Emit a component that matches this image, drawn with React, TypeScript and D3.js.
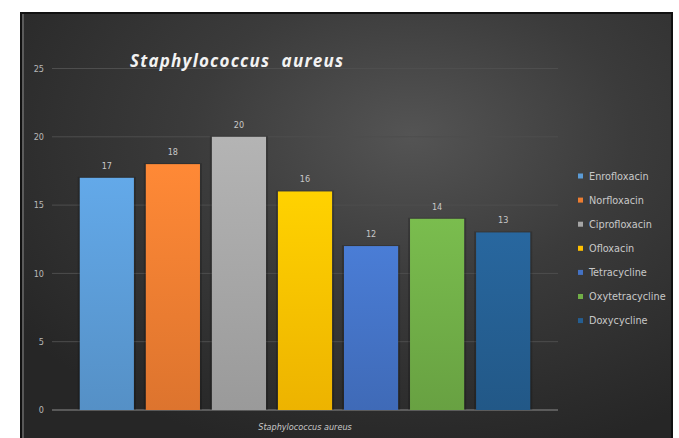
import React from "react";
import * as d3 from "d3";

const categories = ["Staphylococcus aureus"];
const seriesNames = [
  "Enrofloxacin",
  "Norfloxacin",
  "Ciprofloxacin",
  "Ofloxacin",
  "Tetracycline",
  "Oxytetracycline",
  "Doxycycline",
];
const seriesValues = [17, 18, 20, 16, 12, 14, 13];
const seriesColors = ["#5b9bd5", "#ed7d31", "#a5a5a5", "#ffc000", "#4472c4", "#70ad47", "#255e91"];
const yTicks = [0, 5, 10, 15, 20, 25];
const chartTitle = "Staphylococcus  aureus";
const xAxisTitle = "Staphylococcus aureus";

const W = 679;
const H = 438;
const plot = { left: 52, right: 558, top: 68.5, bottom: 410 };
const smallFont = "'Liberation Sans Narrow', 'DejaVu Sans Condensed', 'Open Sans', sans-serif";

export default function App() {
  const y = d3.scaleLinear().domain([0, 25]).range([plot.bottom, plot.top]);
  const x0 = d3.scaleBand<string>().domain(categories).range([plot.left, plot.right]).padding(0);
  const x1 = d3
    .scaleBand<string>()
    .domain(seriesNames)
    .range([0, x0.bandwidth()])
    .paddingInner(0.18)
    .paddingOuter(0.42);

  const lighten = (c: string, k: number) => d3.color(c)!.brighter(k).formatHex();
  const darken = (c: string, k: number) => d3.color(c)!.darker(k).formatHex();

  return (
    <div style={{ width: W, height: H }}>
      <style>{"body{margin:0}"}</style>
      <svg width={W} height={H} style={{ display: "block" }}>
        <defs>
          <radialGradient id="bg" cx="0.6" cy="0.28" r="0.75" fx="0.6" fy="0.28">
            <stop offset="0" stopColor="#545454" />
            <stop offset="0.45" stopColor="#3b3b3b" />
            <stop offset="1" stopColor="#262626" />
          </radialGradient>
          {seriesNames.map((s, i) => (
            <linearGradient key={s} id={`g${i}`} x1="0" y1="0" x2="0" y2="1">
              <stop offset="0" stopColor={lighten(seriesColors[i], 0.25)} />
              <stop offset="1" stopColor={darken(seriesColors[i], 0.2)} />
            </linearGradient>
          ))}
        </defs>
        <rect x={0} y={0} width={W} height={H} fill="#ffffff" />
        <rect x={21} y={13} width={651} height={H} fill="url(#bg)" stroke="#111" strokeWidth={2} />
        <line x1={23} x2={23} y1={14} y2={H} stroke="#8a8a8a" strokeWidth={1} />

        {/* gridlines */}
        {yTicks.map((t) => (
          <line
            key={t}
            x1={plot.left}
            x2={plot.right}
            y1={y(t)}
            y2={y(t)}
            stroke={t === 0 ? "#8c8c8c" : "#4e4e4e"}
            strokeWidth={1}
          />
        ))}
        {yTicks.map((t) => (
          <text
            key={t}
            x={44}
            y={y(t)}
            dy="0.35em"
            textAnchor="end"
            fill="#b8b8b8"
            fontSize={9}
            fontFamily={smallFont}
          >
            {t}
          </text>
        ))}

        {/* bars */}
        {categories.map((c) => (
          <g key={c} transform={`translate(${x0(c)},0)`}>
            {seriesNames.map((s, i) => {
              const bx = x1(s)!;
              const v = seriesValues[i];
              return (
                <g key={s}>
                  <rect
                    x={bx - 2}
                    y={y(v) - 1}
                    width={x1.bandwidth() + 4}
                    height={y(0) - y(v) + 1}
                    fill="#000"
                    opacity={0.18}
                  />
                  <rect x={bx} y={y(v)} width={x1.bandwidth()} height={y(0) - y(v)} fill={`url(#g${i})`} />
                  <text
                    x={bx + x1.bandwidth() / 2}
                    y={y(v) - 9}
                    textAnchor="middle"
                    fill="#c8c8c8"
                    fontSize={9}
                    fontFamily={smallFont}
                  >
                    {v}
                  </text>
                </g>
              );
            })}
          </g>
        ))}

        {/* title */}
        <text
          x={130}
          y={67}
          fill="#f2f2f2"
          fontSize={17}
          fontWeight="bold"
          fontStyle="italic"
          fontFamily="'Open Sans', sans-serif"
          textLength={213}
          lengthAdjust="spacing"
          style={{ whiteSpace: "pre" }}
        >
          {chartTitle}
        </text>

        {/* x axis title */}
        <text
          x={(plot.left + plot.right) / 2}
          y={430}
          textAnchor="middle"
          fill="#c8c8c8"
          fontSize={9}
          fontStyle="italic"
          fontFamily={smallFont}
        >
          {xAxisTitle}
        </text>

        {/* legend */}
        {seriesNames.map((s, i) => {
          const ly = 176 + i * 24.1;
          return (
            <g key={s}>
              <rect x={578} y={ly - 2.5} width={5} height={5} fill={seriesColors[i]} />
              <text x={589} y={ly} dy="0.35em" fill="#c8c8c8" fontSize={10.8} fontFamily={smallFont}>
                {s}
              </text>
            </g>
          );
        })}
      </svg>
    </div>
  );
}
